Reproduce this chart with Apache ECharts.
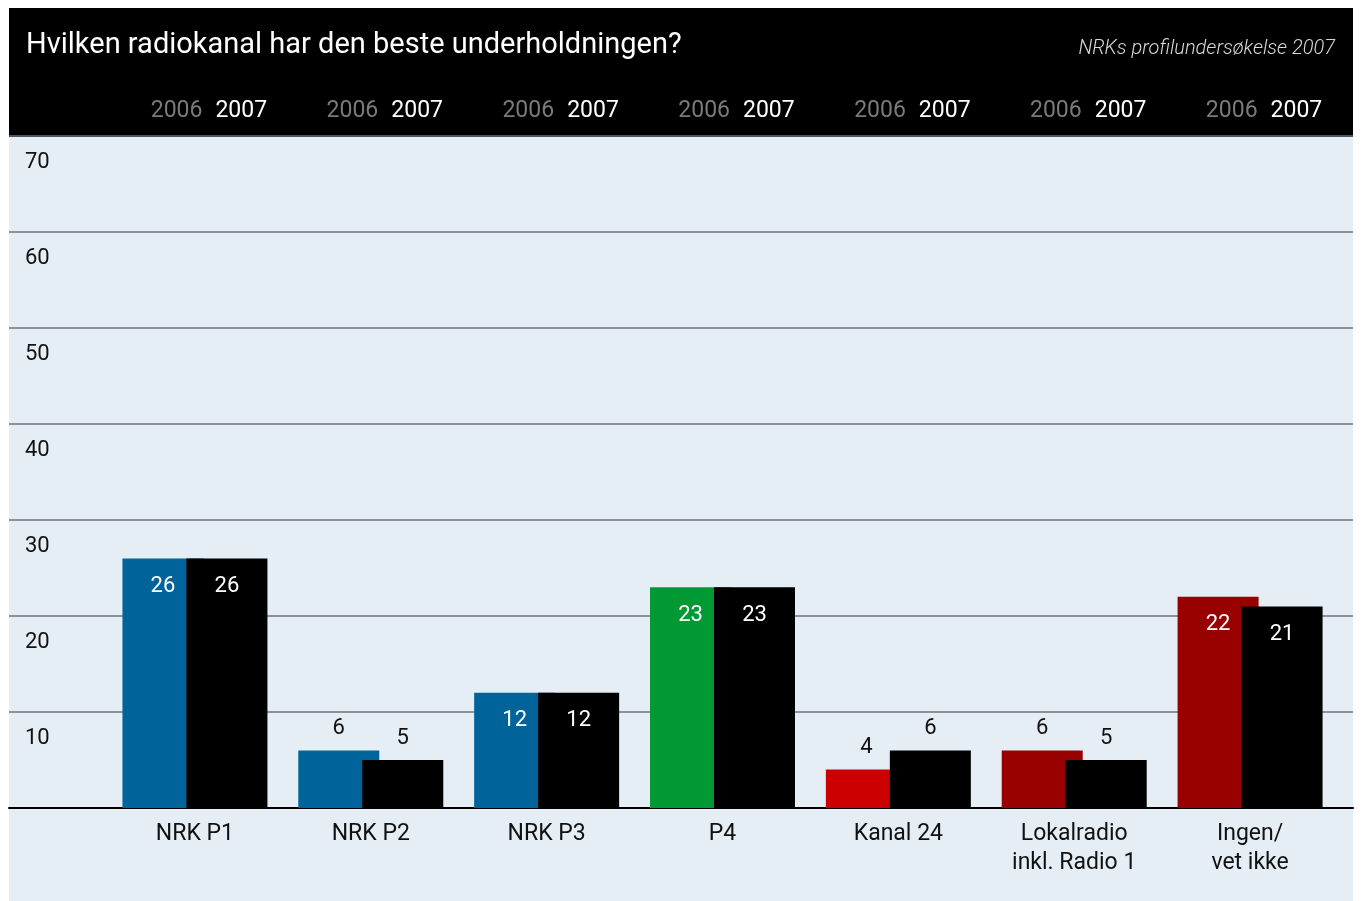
<!DOCTYPE html>
<html>
<head>
<meta charset="utf-8">
<script src="https://cdn.jsdelivr.net/npm/echarts@6/dist/echarts.min.js"></script>
<style>
  html, body { margin: 0; padding: 0; background: #ffffff; }
  #chart { width: 1362px; height: 901px; }
</style>
</head>
<body>
<div id="chart"></div>
<script>
  // data
  var categories = ['NRK P1', 'NRK P2', 'NRK P3', 'P4', 'Kanal 24', 'Lokalradio\ninkl. Radio 1', 'Ingen/\nvet ikke'];
  var values2006 = [26, 6, 12, 23, 4, 6, 22];
  var values2007 = [26, 5, 12, 23, 6, 5, 21];
  var colors2006 = ['#00649a', '#00649a', '#00649a', '#009933', '#cc0000', '#990000', '#990000'];
  var yTicks = [0, 10, 20, 30, 40, 50, 60, 70];

  var fontFam = 'Roboto';

  function labelFor(v) {
    // tall bars get the number inside, short ones on top
    if (v >= 10) {
      return { show: true, position: 'insideTop', distance: 17, color: '#ffffff', fontSize: 22, fontFamily: fontFam };
    }
    return { show: true, position: 'top', distance: 11, color: '#111111', fontSize: 22, fontFamily: fontFam };
  }

  var data2006 = values2006.map(function (v, i) {
    return { value: v, itemStyle: { color: colors2006[i] }, label: labelFor(v) };
  });
  var data2007 = values2007.map(function (v) {
    return { value: v, itemStyle: { color: '#000000' }, label: labelFor(v) };
  });

  var chart = echarts.init(document.getElementById('chart'));
  var option = {
    backgroundColor: '#ffffff',
    animation: false,
    textStyle: { fontFamily: fontFam },
    graphic: [
      { type: 'rect', z: -10, shape: { x: 9, y: 8, width: 1344, height: 129 }, style: { fill: '#000000' } },
      { type: 'rect', z: -10, shape: { x: 9, y: 137, width: 1344, height: 764 }, style: { fill: '#e6eef5' } }
    ],
    title: [
      {
        text: 'Hvilken radiokanal har den beste underholdningen?',
        left: 21, top: 26,
        textStyle: { color: '#ffffff', fontSize: 29, fontWeight: 'normal', fontFamily: fontFam }
      },
      {
        text: 'NRKs profilundersøkelse 2007',
        right: 22, top: 34,
        textStyle: { color: '#d8d8d8', fontSize: 20, fontWeight: 300, fontStyle: 'italic', fontFamily: fontFam }
      }
    ],
    grid: [
      { left: 107, right: 24, top: 136, bottom: 93 },
      { left: 9, right: 9, top: 136, bottom: 93 }
    ],
    xAxis: [
      {
        type: 'category', gridIndex: 0, data: categories, position: 'bottom',
        axisLine: { show: false }, axisTick: { show: false },
        axisLabel: { color: '#111111', fontSize: 23, lineHeight: 29, margin: 12, fontFamily: fontFam }
      },
      {
        type: 'category', gridIndex: 0, data: categories, position: 'top',
        axisLine: { show: false }, axisTick: { show: false },
        axisLabel: {
          margin: 13,
          formatter: function () { return '{a|2006}{b|2007}'; },
          rich: {
            a: { color: '#7a7a7a', fontSize: 23, padding: [0, 0, 0, 28], fontFamily: fontFam },
            b: { color: '#ffffff', fontSize: 23, padding: [0, 0, 0, 13], fontFamily: fontFam }
          }
        }
      },
      {
        type: 'category', gridIndex: 1, data: [''],
        axisLine: { show: true, lineStyle: { color: '#000000', width: 2 } },
        axisTick: { show: false }, axisLabel: { show: false }
      }
    ],
    yAxis: [
      { type: 'value', gridIndex: 0, min: 0, max: 70, interval: 10, show: false },
      {
        type: 'value', gridIndex: 1, min: 0, max: 70, interval: 10,
        axisLine: { show: false }, axisTick: { show: false },
        splitLine: { show: true, lineStyle: { color: '#6e7376', width: 1.5 } },
        axisLabel: {
          inside: true, margin: 16, color: '#111111', fontSize: 22, fontFamily: fontFam,
          verticalAlign: 'top', padding: [15, 0, 0, 0],
          formatter: function (v) { return yTicks.indexOf(v) > 0 ? String(v) : ''; }
        }
      }
    ],
    series: [
      {
        name: '2006', type: 'bar', xAxisIndex: 0, yAxisIndex: 0,
        barWidth: 81, barGap: '-21%', data: data2006
      },
      {
        name: '2007', type: 'bar', xAxisIndex: 0, yAxisIndex: 0,
        barWidth: 81, barGap: '-21%', data: data2007
      }
    ]
  };
  chart.setOption(option);
</script>
</body>
</html>
